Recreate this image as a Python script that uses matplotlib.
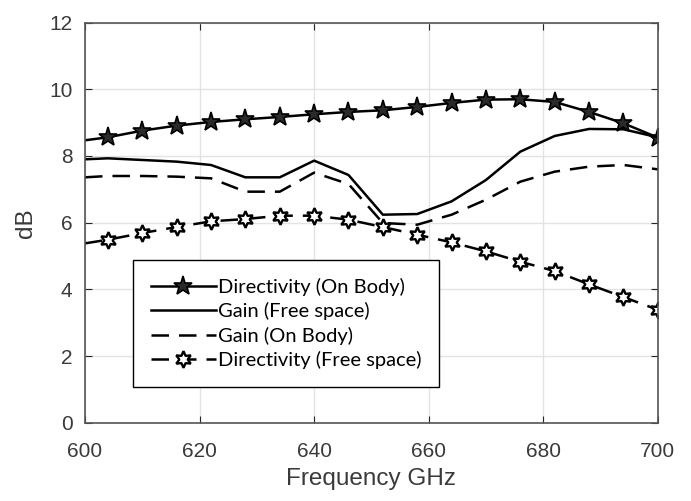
import numpy as np
import matplotlib
matplotlib.use("Agg")
import matplotlib.pyplot as plt

# values
freq = [600, 604, 610, 616, 622, 628, 634, 640, 646, 652, 658, 664, 670, 676, 682, 688, 694, 700]
dir_body = [8.47, 8.56, 8.76, 8.91, 9.02, 9.10, 9.17, 9.25, 9.32, 9.37, 9.47, 9.59, 9.69, 9.70, 9.62, 9.32, 8.98, 8.55]
gain_free = [7.90, 7.93, 7.88, 7.83, 7.73, 7.36, 7.36, 7.86, 7.43, 6.24, 6.26, 6.64, 7.28, 8.13, 8.60, 8.81, 8.80, 8.56]
gain_body = [7.36, 7.40, 7.40, 7.38, 7.33, 6.93, 6.93, 7.50, 7.16, 5.99, 5.94, 6.24, 6.69, 7.23, 7.53, 7.68, 7.73, 7.60]
dir_free = [5.38, 5.49, 5.69, 5.87, 6.04, 6.11, 6.21, 6.21, 6.09, 5.87, 5.64, 5.41, 5.14, 4.83, 4.55, 4.15, 3.77, 3.39]

labels = ["Directivity (On Body)", "Gain (Free space)", "Gain (On Body)", "Directivity (Free space)"]
xticks = [600, 620, 640, 660, 680, 700]
yticks = [0, 2, 4, 6, 8, 10, 12]

plt.rcParams['font.family'] = ['Liberation Sans', 'DejaVu Sans']

fig = plt.figure(figsize=(6.91, 5.01), dpi=100)
ax = fig.add_axes([0.123, 0.156, 0.829, 0.799])

marks = range(1, len(freq))  # no marker at the first point
ax.plot(freq, dir_body, '-', color='black', lw=1.8, marker='*', markersize=14,
        markerfacecolor='#2a2a2a', markeredgecolor='black', markeredgewidth=1.2,
        markevery=marks, label=labels[0])
ax.plot(freq, gain_free, '-', color='black', lw=1.8, label=labels[1])
ax.plot(freq, gain_body, '--', color='black', lw=1.8, dashes=(7, 4), label=labels[2])
ax.plot(freq, dir_free, '--', color='black', lw=1.8, dashes=(7, 4), marker=(6, 1, 0),
        markersize=12, markerfacecolor='white', markeredgecolor='black',
        markeredgewidth=1.7, markevery=marks, label=labels[3])

ax.set_xlim(600, 700)
ax.set_ylim(0, 12)
ax.set_xticks(xticks)
ax.set_yticks(yticks)
ax.grid(True, color='#e3e3e3', lw=1)
ax.set_axisbelow(True)
ax.tick_params(direction='in', top=True, right=True, labelsize=15, colors='#262626',
               length=5, labelcolor='#3a3a3a')
ax.tick_params(axis='x', pad=14)
ax.tick_params(axis='y', pad=9)
for s in ax.spines.values():
    s.set_color('#555555')
    s.set_linewidth(1.2)

ax.set_xlabel('Frequency GHz', fontsize=17.5, color='#3a3a3a', labelpad=5)
ax.set_ylabel('dB', fontsize=17.5, color='#3a3a3a', labelpad=9)

leg = ax.legend(loc='lower left', bbox_to_anchor=(0.084, 0.09), borderaxespad=0,
                fancybox=False, edgecolor='black', framealpha=1, handlelength=3.2,
                handletextpad=0.1, labelspacing=0.3, borderpad=0.9,
                prop={'family': 'Lato', 'size': 14.5})
leg.get_frame().set_linewidth(1.0)

fig.savefig('out.png', dpi=100)
